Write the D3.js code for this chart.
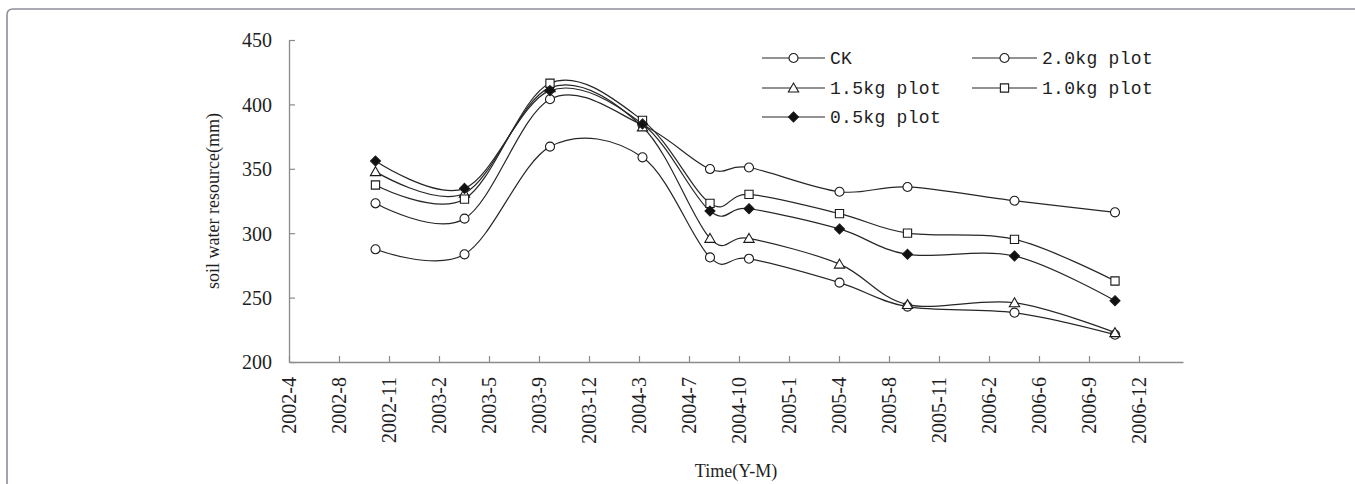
<!DOCTYPE html>
<html>
<head>
<meta charset="utf-8">
<script src="https://cdn.jsdelivr.net/npm/d3@7"></script>
<style>
  html, body { margin: 0; padding: 0; background: #fff; }
  svg { display: block; }
</style>
</head>
<body>
<svg id="chart" width="1355" height="484"></svg>
<script>
// ---------------- data ----------------
const measureDates = ["2002-10-15", "2003-04-11", "2003-09-29", "2004-04-01", "2004-08-14",
                      "2004-10-31", "2005-04-30", "2005-09-13", "2006-04-15", "2006-11-02"];
const seriesNames = ["CK", "2.0kg plot", "1.5kg plot", "1.0kg plot", "0.5kg plot"];
const seriesSymbols = ["circle", "circle", "triangle", "square", "diamond"];
const ckValues   = [287.5, 283.6, 367.2, 358.9, 281.2, 280.2, 261.6, 243.0, 238.3, 221.2];
const kg20Values = [323.2, 311.3, 404.0, 384.0, 349.8, 351.0, 332.2, 335.9, 325.2, 316.2];
const kg15Values = [347.8, 331.0, 413.0, 382.5, 296.0, 296.0, 276.0, 244.6, 246.0, 222.8];
const kg10Values = [337.4, 326.5, 416.4, 387.6, 323.2, 330.1, 315.2, 300.1, 295.2, 262.9];
const kg05Values = [356.0, 334.8, 410.7, 384.8, 317.2, 319.0, 303.3, 283.6, 282.3, 247.6];
const xTickLabels = ["2002-4", "2002-8", "2002-11", "2003-2", "2003-5", "2003-9", "2003-12",
                     "2004-3", "2004-7", "2004-10", "2005-1", "2005-4", "2005-8", "2005-11",
                     "2006-2", "2006-6", "2006-9", "2006-12"];
const xAxisStart = "2002-04-25";
const xTickStepDays = 100;
const xAxisSpanDays = 1788;
const yTicks = [200, 250, 300, 350, 400, 450];
const xTitle = "Time(Y-M)";
const yTitle = "soil water resource(mm)";

const seriesValues = [ckValues, kg20Values, kg15Values, kg10Values, kg05Values];

// ---------------- setup ----------------
const svg = d3.select("#chart");
const parse = d3.utcParse("%Y-%m-%d");
const t0 = parse(xAxisStart);
const t1 = d3.utcDay.offset(t0, xAxisSpanDays);

const x = d3.scaleUtc().domain([t0, t1]).range([289, 1183]);
const y = d3.scaleLinear().domain([200, 450]).range([362, 40]);

const axisColor = "#8a8a8a";
const lineColor = "#262626";
const textColor = "#1e1e1e";
const serif = "'Liberation Serif', 'DejaVu Serif', serif";
const mono = "'Liberation Mono', 'DejaVu Sans Mono', monospace";

// frame
svg.append("path")
  .attr("d", "M7,484 L7,15 Q7,9 13,9 L1355,9")
  .attr("fill", "none").attr("stroke", "#8e8e9c").attr("stroke-width", 1.6);

// ---------------- axes ----------------
const xTickValues = xTickLabels.map((_, i) => d3.utcDay.offset(t0, i * xTickStepDays));
const xAxis = d3.axisBottom(x)
  .tickValues(xTickValues)
  .tickSizeInner(-6).tickSizeOuter(0)
  .tickFormat((d, i) => xTickLabels[i]);
const gx = svg.append("g").attr("transform", `translate(0,${y(200)})`).call(xAxis);
gx.select(".domain").attr("stroke", axisColor).attr("stroke-width", 1.3);
gx.selectAll(".tick line").attr("stroke", axisColor).attr("stroke-width", 1.2);
gx.selectAll(".tick text")
  .attr("font-family", serif).attr("font-size", 20).attr("fill", textColor)
  .attr("text-anchor", "end")
  .attr("transform", "rotate(-90)")
  .attr("x", -15).attr("y", 0).attr("dy", "0.33em");

const yAxis = d3.axisLeft(y).tickValues(yTicks).tickSizeInner(-6).tickSizeOuter(0);
const gy = svg.append("g").attr("transform", `translate(${x(t0)},0)`).call(yAxis);
gy.select(".domain").attr("stroke", axisColor).attr("stroke-width", 1.3);
gy.selectAll(".tick line").attr("stroke", axisColor).attr("stroke-width", 1.2);
gy.selectAll(".tick text")
  .attr("font-family", serif).attr("font-size", 20).attr("fill", textColor)
  .attr("x", -17).attr("dy", "0.34em");

// titles
svg.append("text")
  .attr("x", (x.range()[0] + x.range()[1]) / 2).attr("y", 477)
  .attr("text-anchor", "middle")
  .attr("font-family", serif).attr("font-size", 18).attr("fill", textColor)
  .text(xTitle);
svg.append("text")
  .attr("transform", `translate(219,${(y.range()[0] + y.range()[1]) / 2}) rotate(-90)`)
  .attr("text-anchor", "middle")
  .attr("font-family", serif).attr("font-size", 18).attr("fill", textColor)
  .text(yTitle);

// ---------------- series ----------------
const dates = measureDates.map(parse);
const line = d3.line()
  .x(d => x(d.date)).y(d => y(d.value))
  .curve(d3.curveCardinal.tension(0));

const diamondType = {
  draw(ctx, size) {
    const r = Math.sqrt(size / 2);
    ctx.moveTo(0, -r); ctx.lineTo(r, 0); ctx.lineTo(0, r); ctx.lineTo(-r, 0); ctx.closePath();
  }
};
const symbolTypes = {
  circle: { type: d3.symbolCircle, size: 64, fill: "#fff" },
  triangle: { type: d3.symbolTriangle, size: 46, fill: "#fff" },
  square: { type: d3.symbolSquare, size: 68, fill: "#fff" },
  diamond: { type: diamondType, size: 50, fill: "#111" }
};

function drawMarker(g, kind, cx, cy) {
  const s = symbolTypes[kind];
  g.append("path")
    .attr("d", d3.symbol().type(s.type).size(s.size)())
    .attr("transform", `translate(${cx},${cy + (kind === "triangle" ? 1 : 0)})`)
    .attr("fill", s.fill).attr("stroke", "#1a1a1a").attr("stroke-width", 1.1);
}

const plot = svg.append("g");
seriesValues.forEach((vals) => {
  const pts = vals.map((v, i) => ({ date: dates[i], value: v }));
  plot.append("path")
    .attr("d", line(pts))
    .attr("fill", "none").attr("stroke", lineColor).attr("stroke-width", 1.2);
});
seriesValues.forEach((vals, si) => {
  const g = plot.append("g");
  vals.forEach((v, i) => drawMarker(g, seriesSymbols[si], x(dates[i]), y(v)));
});

// ---------------- legend ----------------
const legendRows = [58, 88, 117];
const legendCols = [{ x0: 762, x1: 825, tx: 830 }, { x0: 972, x1: 1037, tx: 1042 }];
const legendPos = [[0, 0], [1, 0], [0, 1], [1, 1], [0, 2]];
const lg = svg.append("g");
seriesNames.forEach((name, si) => {
  const c = legendCols[legendPos[si][0]];
  const ry = legendRows[legendPos[si][1]];
  lg.append("line").attr("x1", c.x0).attr("x2", c.x1).attr("y1", ry).attr("y2", ry)
    .attr("stroke", lineColor).attr("stroke-width", 1.2);
  drawMarker(lg, seriesSymbols[si], (c.x0 + c.x1) / 2, ry);
  lg.append("text")
    .attr("x", c.tx).attr("y", ry).attr("dy", "0.36em")
    .attr("font-family", mono).attr("font-size", 18).attr("letter-spacing", 0.3)
    .attr("fill", textColor)
    .text(name);
});
</script>
</body>
</html>
